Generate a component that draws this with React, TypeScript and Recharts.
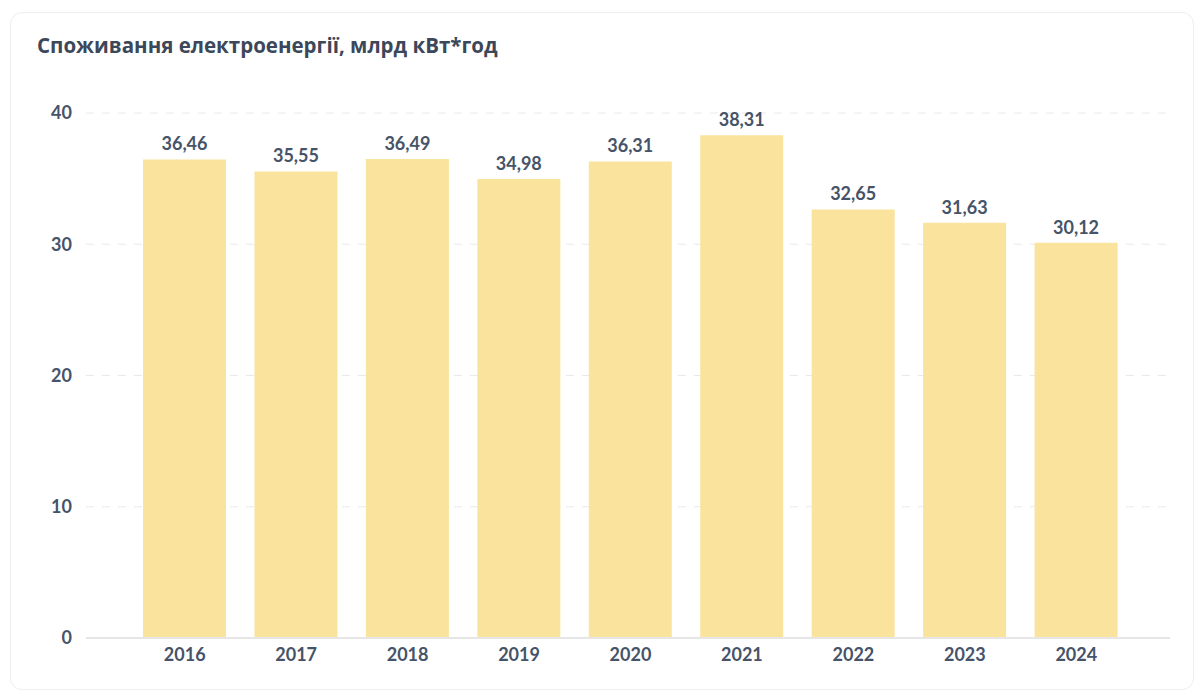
import React from 'react';
import { BarChart, Bar, XAxis, YAxis, CartesianGrid, LabelList } from 'recharts';

const years = ['2016', '2017', '2018', '2019', '2020', '2021', '2022', '2023', '2024'];
const consumption = [36.46, 35.55, 36.49, 34.98, 36.31, 38.31, 32.65, 31.63, 30.12];
const yTicks = [0, 10, 20, 30, 40];

const data = years.map((year, i) => ({ year, value: consumption[i] }));

const textColor = '#465368';
const font = 'Lato, "Noto Sans", sans-serif';

const App: React.FC = () => {
  return (
    <div style={{ position: 'absolute', left: 0, top: 0, width: 1204, height: 696, background: '#fff', fontFamily: font }}>
      <div
        style={{
          position: 'absolute',
          left: 10,
          top: 12,
          width: 1184,
          height: 678,
          border: '1px solid #eeeeee',
          borderRadius: 12,
          boxSizing: 'border-box',
        }}
      />
      <div
        style={{
          position: 'absolute',
          left: 37,
          top: 31,
          fontSize: 20.5,
          fontWeight: 700,
          color: '#3c4759',
          fontFamily: '"Open Sans", sans-serif',
          whiteSpace: 'nowrap',
        }}
      >
        Споживання електроенергії, млрд кВт*год
      </div>
      <div style={{ position: 'absolute', left: 0, top: 0 }}>
        <BarChart
          width={1204}
          height={696}
          data={data}
          margin={{ top: 113, right: 34, bottom: 28, left: 0 }}
          barSize={83}
        >
          <CartesianGrid vertical={false} stroke="#e9e9e9" strokeDasharray="8 8" />
          <XAxis
            dataKey="year"
            padding={{ left: 43, right: 38 }}
            axisLine={{ stroke: '#e6e6e6', strokeWidth: 2 }}
            tickLine={false}
            tickSize={0}
            tickMargin={10}
            tick={{ fill: textColor, fontSize: 18, fontWeight: 700, fontFamily: font }}
          />
          <YAxis
            width={86}
            domain={[0, 40]}
            ticks={yTicks}
            axisLine={false}
            tickLine={false}
            tickSize={0}
            tickMargin={14}
            tick={{ fill: textColor, fontSize: 18, fontWeight: 700, fontFamily: font }}
          />
          <Bar dataKey="value" fill="#fae39c" isAnimationActive={false}>
            <LabelList
              dataKey="value"
              position="top"
              offset={9}
              formatter={(v: number) => v.toFixed(2).replace('.', ',')}
              style={{ fill: textColor, fontSize: 18, fontWeight: 700, fontFamily: font }}
            />
          </Bar>
        </BarChart>
      </div>
    </div>
  );
};

export default App;
